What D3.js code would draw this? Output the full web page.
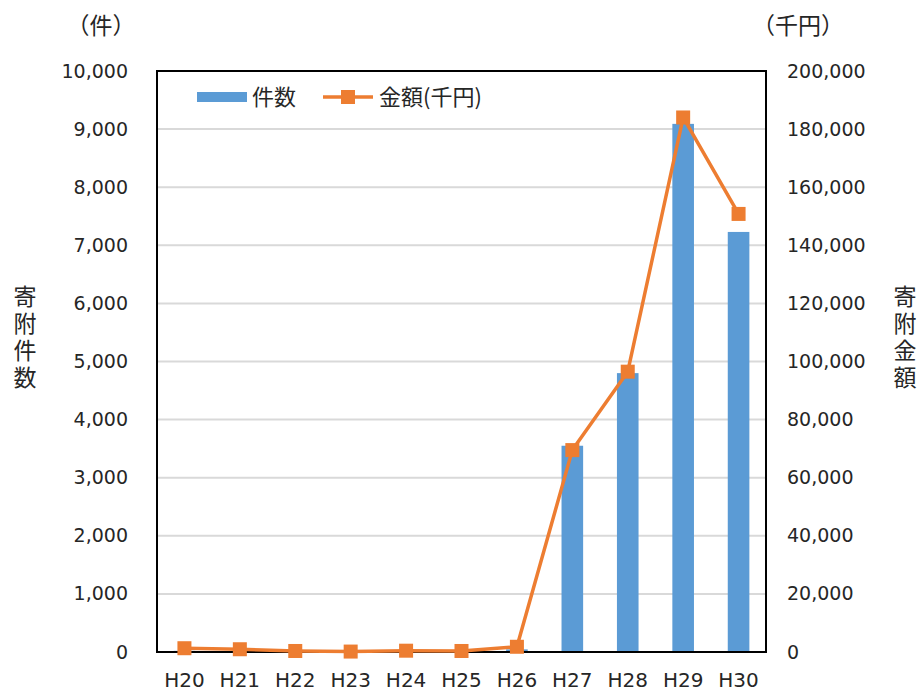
<!DOCTYPE html>
<html>
<head>
<meta charset="utf-8">
<script src="https://cdn.jsdelivr.net/npm/d3@7"></script>
<style>
  html, body { margin: 0; padding: 0; background: #fff; }
  svg text { font-family: "Noto Sans CJK JP", "Noto Sans", sans-serif; fill: #262626; }
  svg .num text, svg text.num { font-family: "DejaVu Sans", "Noto Sans CJK JP", sans-serif; }
</style>
</head>
<body>
<svg id="chart" width="923" height="693"></svg>
<script>
// Fiscal years (Heisei)
const years = ["H20", "H21", "H22", "H23", "H24", "H25", "H26", "H27", "H28", "H29", "H30"];
// Number of donations (件)
const counts = [20, 15, 8, 5, 10, 9, 45, 3550, 4800, 9090, 7230];
// Donation amount (千円)
const amounts = [1300, 950, 350, 150, 450, 350, 1800, 69500, 96500, 184000, 150800];
// Axis ticks
const leftTicks = d3.range(0, 10001, 1000);
const rightTicks = d3.range(0, 200001, 20000);

const svg = d3.select("#chart");
const m = { left: 157, right: 766, top: 71, bottom: 652 };

const x = d3.scaleBand().domain(years).range([m.left, m.right]).paddingInner(0.61).paddingOuter(0.3);
const yL = d3.scaleLinear().domain([0, 10000]).range([m.bottom, m.top]);
const yR = d3.scaleLinear().domain([0, 200000]).range([m.bottom, m.top]);
const fmt = d3.format(",");

// Horizontal gridlines
svg.append("g")
  .selectAll("line")
  .data(leftTicks)
  .join("line")
  .attr("x1", m.left).attr("x2", m.right)
  .attr("y1", d => yL(d)).attr("y2", d => yL(d))
  .attr("stroke", "#d9d9d9").attr("stroke-width", 2);

// Bars: number of donations
svg.append("g")
  .selectAll("rect")
  .data(years.map((y, i) => ({ y, v: counts[i] })))
  .join("rect")
  .attr("x", d => x(d.y))
  .attr("width", x.bandwidth())
  .attr("y", d => yL(d.v))
  .attr("height", d => yL(0) - yL(d.v))
  .attr("fill", "#5b9bd5");

// Plot frame
svg.append("rect")
  .attr("x", m.left).attr("y", m.top)
  .attr("width", m.right - m.left).attr("height", m.bottom - m.top)
  .attr("fill", "none").attr("stroke", "#000").attr("stroke-width", 2);

// Line: donation amount
const cx = d => x(d) + x.bandwidth() / 2;
const lineData = years.map((y, i) => ({ y, v: amounts[i] }));
svg.append("path")
  .datum(lineData)
  .attr("d", d3.line().x(d => cx(d.y)).y(d => yR(d.v)))
  .attr("fill", "none").attr("stroke", "#ed7d31").attr("stroke-width", 3.5)
  .attr("stroke-linejoin", "round");
svg.append("g")
  .selectAll("rect")
  .data(lineData)
  .join("rect")
  .attr("x", d => cx(d.y) - 7).attr("y", d => yR(d.v) - 7)
  .attr("width", 14).attr("height", 14)
  .attr("fill", "#ed7d31");

// Axis label styling
const styleAxis = size => g => {
  g.select(".domain").remove();
  g.attr("class", "num").attr("font-family", null).attr("font-size", null);
  g.selectAll("text").attr("font-size", size).attr("fill", "#262626");
};

// Left axis
svg.append("g")
  .attr("transform", `translate(${m.left},0)`)
  .call(d3.axisLeft(yL).tickValues(leftTicks).tickFormat(fmt).tickSize(0).tickPadding(29))
  .call(styleAxis(19));

// Right axis
svg.append("g")
  .attr("transform", `translate(${m.right},0)`)
  .call(d3.axisRight(yR).tickValues(rightTicks).tickFormat(fmt).tickSize(0).tickPadding(21))
  .call(styleAxis(19));

// Bottom axis
svg.append("g")
  .attr("transform", `translate(0,${m.bottom})`)
  .call(d3.axisBottom(x).tickSize(0).tickPadding(21))
  .call(styleAxis(20));

// Unit labels
svg.append("text").attr("x", 101).attr("y", 34).attr("text-anchor", "middle")
  .attr("font-size", 23).text("（件）");
svg.append("text").attr("x", 798).attr("y", 34).attr("text-anchor", "middle")
  .attr("font-size", 23).text("（千円）");

// Vertical axis titles
const vtitle = (xPos, label) => {
  svg.append("text")
    .attr("x", xPos).attr("y", 285)
    .attr("font-size", 23)
    .style("writing-mode", "vertical-rl")
    .style("letter-spacing", "4px")
    .text(label);
};
vtitle(25, "寄附件数");
vtitle(905, "寄附金額");

// Legend
const lg = svg.append("g");
lg.append("rect").attr("x", 197).attr("y", 92).attr("width", 50).attr("height", 10).attr("fill", "#5b9bd5");
lg.append("text").attr("x", 252).attr("y", 105).attr("font-size", 22).text("件数");
lg.append("line").attr("x1", 323).attr("x2", 373).attr("y1", 97).attr("y2", 97)
  .attr("stroke", "#ed7d31").attr("stroke-width", 3.5);
lg.append("rect").attr("x", 341).attr("y", 90).attr("width", 14).attr("height", 14).attr("fill", "#ed7d31");
lg.append("text").attr("x", 379).attr("y", 105).attr("font-size", 22).text("金額(千円)");
</script>
</body>
</html>
